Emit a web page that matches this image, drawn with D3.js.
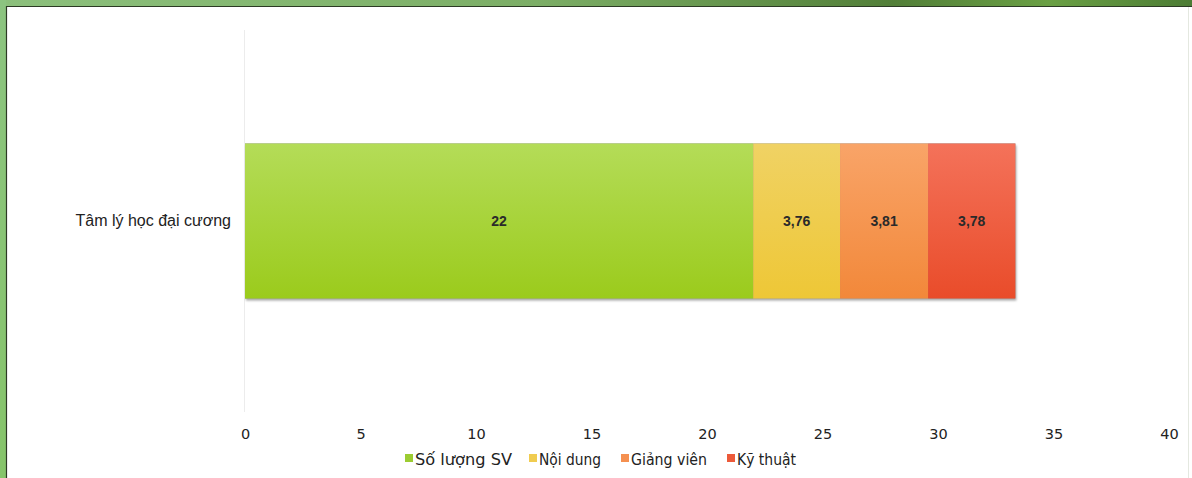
<!DOCTYPE html>
<html><head><meta charset="utf-8">
<script src="https://cdn.jsdelivr.net/npm/d3@7"></script>
<style>
html,body{margin:0;padding:0;background:#fff;overflow:hidden;}
svg{display:block;}
</style></head>
<body>
<svg id="chart" width="1192" height="478"></svg>
<script>
const categories = ["Tâm lý học đại cương"];
const seriesNames = ["Số lượng SV", "Nội dung", "Giảng viên", "Kỹ thuật"];
const seriesValues = [[22], [3.76], [3.81], [3.78]];
const valueLabels = [["22"], ["3,76"], ["3,81"], ["3,78"]];
const tickValues = [0, 5, 10, 15, 20, 25, 30, 35, 40];
const seriesTop = ["#b4dc58", "#f0d264", "#f9a468", "#f4725a"];
const seriesBottom = ["#9bcb1c", "#eec736", "#f2883a", "#e94c2a"];
const legendColors = ["#9ccc32", "#f0cc50", "#f59050", "#ec5a3a"];

const svg = d3.select("#chart");
const W = 1192, H = 478;

// frame
const defs = svg.append("defs");
const gTop = defs.append("linearGradient").attr("id","frameTop").attr("x1",0).attr("x2",1).attr("y1",0).attr("y2",0);
gTop.append("stop").attr("offset","0%").attr("stop-color","#8cc07c");
gTop.append("stop").attr("offset","45%").attr("stop-color","#7cae66");
gTop.append("stop").attr("offset","75%").attr("stop-color","#527f38");
gTop.append("stop").attr("offset","88%").attr("stop-color","#6aa044");
gTop.append("stop").attr("offset","100%").attr("stop-color","#4c7c34");
svg.append("rect").attr("x",0).attr("y",0).attr("width",W).attr("height",6).attr("fill","url(#frameTop)");
const gLeft = defs.append("linearGradient").attr("id","frameLeft").attr("x1",0).attr("x2",0).attr("y1",0).attr("y2",1);
gLeft.append("stop").attr("offset","0%").attr("stop-color","#8cc480");
gLeft.append("stop").attr("offset","100%").attr("stop-color","#86c46a");
svg.append("rect").attr("x",0).attr("y",0).attr("width",6).attr("height",H).attr("fill","url(#frameLeft)");
svg.append("line").attr("x1",6).attr("x2",W).attr("y1",6.5).attr("y2",6.5).attr("stroke","#2c3a24").attr("stroke-width",1.2);
svg.append("line").attr("x1",6.5).attr("x2",6.5).attr("y1",6).attr("y2",H).attr("stroke","#2c3a24").attr("stroke-width",1.2);
svg.append("line").attr("x1",1188.5).attr("x2",1188.5).attr("y1",7).attr("y2",H).attr("stroke","#e4e8e0").attr("stroke-width",1);

// scales
const x = d3.scaleLinear().domain([0, 40]).range([245, 1169]);
const y = d3.scaleBand().domain(categories).range([30, 412]).paddingInner(0).paddingOuter(0.732);

// vertical axis line
svg.append("line").attr("x1",244.5).attr("x2",244.5).attr("y1",30).attr("y2",412).attr("stroke","#ececec").attr("stroke-width",1);

// gradients for series
seriesNames.forEach((s,i)=>{
  const g = defs.append("linearGradient").attr("id","sg"+i).attr("x1",0).attr("x2",0).attr("y1",0).attr("y2",1);
  g.append("stop").attr("offset","0%").attr("stop-color",seriesTop[i]);
  g.append("stop").attr("offset","100%").attr("stop-color",seriesBottom[i]);
});
const sh = defs.append("filter").attr("id","shadow").attr("x","-5%").attr("y","-5%").attr("width","110%").attr("height","120%");
sh.append("feDropShadow").attr("dx",1).attr("dy",2).attr("stdDeviation",1.2).attr("flood-color","#000").attr("flood-opacity",0.35);

// stack
const rows = categories.map((c,ci)=>{
  const o = {cat:c};
  seriesNames.forEach((s,si)=>o[s]=seriesValues[si][ci]);
  return o;
});
const stacked = d3.stack().keys(seriesNames)(rows);

const barG = svg.append("g");
categories.forEach((c,ci)=>{
  const last = stacked[stacked.length-1][ci];
  barG.append("rect").attr("x",x(0)).attr("y",y(c)).attr("width",x(last[1])-x(0)).attr("height",y.bandwidth())
    .attr("fill","#888").attr("filter","url(#shadow)");
});
stacked.forEach((layer,si)=>{
  layer.forEach((d,ci)=>{
    const c = categories[ci];
    barG.append("rect").attr("x",x(d[0])).attr("y",y(c)).attr("width",x(d[1])-x(d[0])).attr("height",y.bandwidth())
      .attr("fill","url(#sg"+si+")");
    barG.append("text").attr("x",(x(d[0])+x(d[1]))/2).attr("y",y(c)+y.bandwidth()/2+5)
      .attr("text-anchor","middle").attr("font-family","'Liberation Sans', Arial, sans-serif").attr("font-weight","bold")
      .attr("font-size",14).attr("fill","#2a2a2a").text(valueLabels[si][ci]);
  });
});

// category axis labels
const yAxis = d3.axisLeft(y).tickSize(0).tickPadding(14);
const ya = svg.append("g").attr("transform","translate(245,0)").call(yAxis);
ya.select(".domain").remove();
ya.selectAll("text").attr("font-family","'Liberation Sans', Arial, sans-serif").attr("font-size",16).attr("fill","#222");

// x axis
const xAxis = d3.axisBottom(x).tickValues(tickValues).tickSize(0).tickPadding(0).tickFormat(d3.format("d"));
const xa = svg.append("g").attr("transform","translate(0,429)").call(xAxis);
xa.select(".domain").remove();
xa.selectAll("text").attr("font-family","'DejaVu Sans', sans-serif").attr("font-size",14.5).attr("fill","#222");

// legend
const legendItems = [
  {name: seriesNames[0], x: 405},
  {name: seriesNames[1], x: 529},
  {name: seriesNames[2], x: 621},
  {name: seriesNames[3], x: 727}
];
const lg = svg.append("g");
legendItems.forEach((it,i)=>{
  lg.append("rect").attr("x",it.x).attr("y",454).attr("width",8).attr("height",8).attr("fill",legendColors[i]);
  lg.append("text").attr("x",it.x+10).attr("y",465).attr("font-family","'DejaVu Sans', sans-serif")
    .attr("font-size",16).attr("textLength", [97,62,76,59][i]).attr("lengthAdjust","spacingAndGlyphs")
    .attr("fill","#222").text(it.name);
});
</script>
</body></html>
